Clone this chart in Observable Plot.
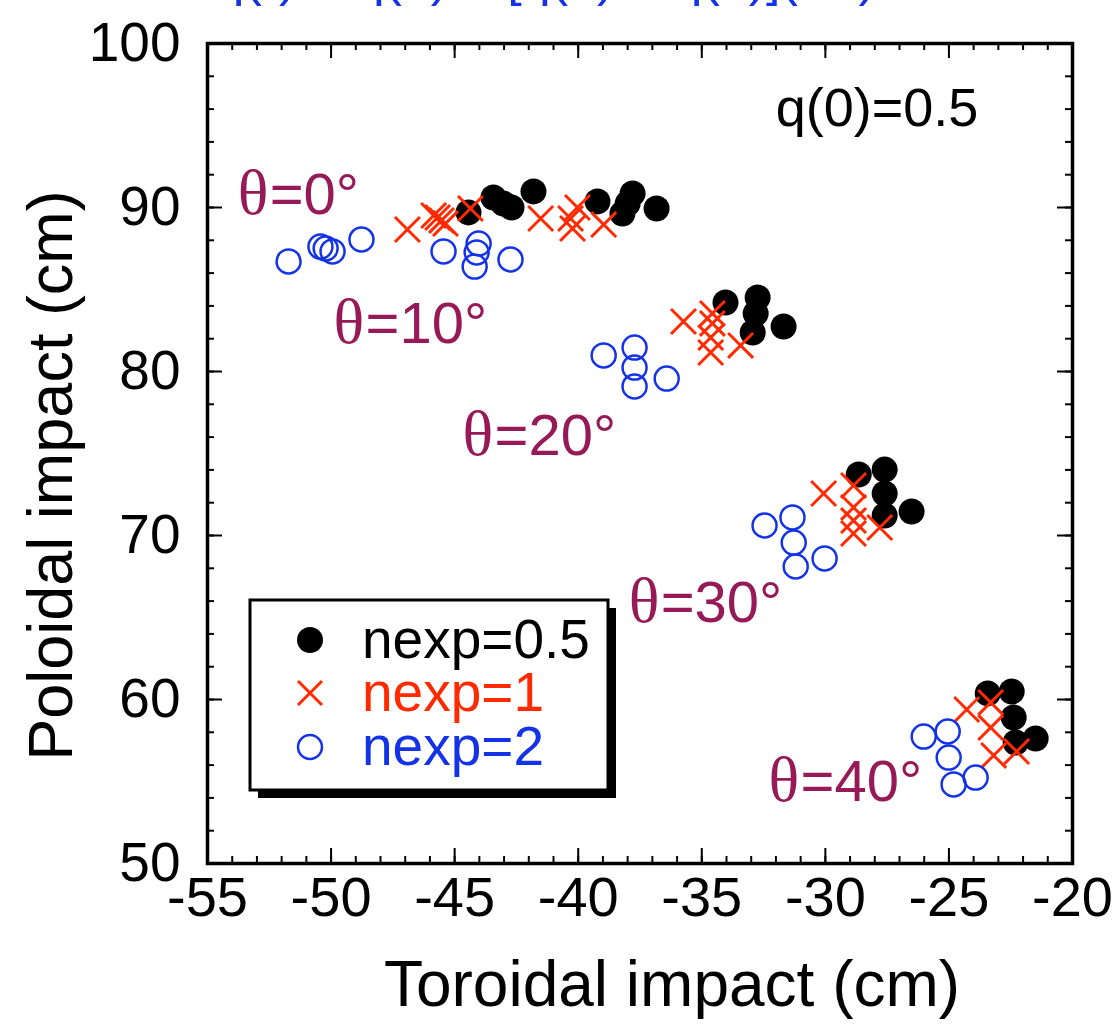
<!DOCTYPE html>
<html>
<head>
<meta charset="utf-8">
<script src="https://cdn.jsdelivr.net/npm/d3@7"></script>
<script src="https://cdn.jsdelivr.net/npm/@observablehq/plot@0.6"></script>
<style>
  html, body { margin: 0; padding: 0; background: #fff; }
  #chart { width: 1114px; height: 1025px; }
</style>
</head>
<body>
<div id="chart"></div>
<script>
// ---- data ----
const groupTheta = [0, 10, 20, 30, 40];

// nexp = 0.5 (filled black circles)
const n05_x = [-44.44, -43.43, -43.03, -42.70, -41.81,
               -39.22, -37.80, -38.00, -38.21, -36.83,
               -34.04, -32.74, -32.82, -32.94, -31.69,
               -28.65, -27.60, -27.60, -27.60, -26.51,
               -23.43, -22.46, -22.38, -22.30, -21.49];
const n05_y = [89.70, 90.61, 90.24, 90.00, 90.98,
               90.37, 90.85, 90.24, 89.63, 89.94,
               84.21, 84.51, 83.54, 82.38, 82.74,
               73.72, 74.02, 72.56, 71.22, 71.46,
               60.37, 60.49, 58.90, 57.38, 57.62];

// nexp = 1 (red crosses)
const n1_x = [-46.91, -45.85, -45.69, -45.53, -45.37, -44.36,
              -41.52, -40.03, -40.31, -40.23, -38.97,
              -35.74, -34.57, -34.57, -34.64, -34.64, -33.43,
              -30.07, -28.86, -28.86, -28.86, -28.86, -27.80,
              -24.28, -23.31, -23.31, -23.19, -22.26];
const n1_y = [88.66, 89.51, 89.39, 89.21, 89.02, 89.94,
              89.33, 90.00, 89.33, 88.72, 88.96,
              83.05, 83.54, 82.93, 82.07, 81.16, 81.59,
              72.56, 73.05, 71.71, 70.91, 70.12, 70.49,
              59.39, 59.82, 58.29, 56.59, 56.83];

// nexp = 2 (open blue circles)
const n2_x = [-51.72, -50.43, -50.22, -49.94, -48.77,
              -45.45, -44.03, -44.11, -44.19, -42.74,
              -38.97, -37.72, -37.72, -37.72, -36.42,
              -32.46, -31.33, -31.28, -31.20, -30.03,
              -26.02, -25.05, -25.01, -24.81, -23.92];
const n2_y = [86.71, 87.62, 87.50, 87.32, 88.05,
              87.32, 87.80, 87.26, 86.40, 86.83,
              80.98, 81.46, 80.24, 79.09, 79.57,
              70.61, 71.10, 69.57, 68.11, 68.60,
              57.74, 58.05, 56.46, 54.82, 55.24];

// theta annotation anchors (left edge, baseline) in data units
const labelTheta = [0, 10, 20, 30, 40];
const labelX = [-53.78, -49.90, -44.68, -37.96, -32.30];
const labelY = [89.63, 81.71, 74.88, 64.70, 53.84];

// axis ticks
const xMajor = [-55, -50, -45, -40, -35, -30, -25, -20];
const xMinor = d3.range(-55, -19, 1);
const yMajor = [50, 60, 70, 80, 90, 100];
const yMinor = d3.range(50, 101, 2);

const seriesNames = ["nexp=0.5", "nexp=1", "nexp=2"];
const seriesColors = ["#000000", "#ff2a00", "#1433e6"];

// ---- build tables ----
const black = n05_x.map((x, i) => ({x, y: n05_y[i]}));
const red = n1_x.map((x, i) => ({x, y: n1_y[i]}));
const blue = n2_x.map((x, i) => ({x, y: n2_y[i]}));
const labels = labelTheta.map((t, i) => ({t, x: labelX[i], y: labelY[i]}));

const W = 1114, H = 1025;
const mL = 207, mR = 42, mT = 43, mB = 162;
const pw = W - mL - mR, ph = H - mT - mB;
const minorLen = 7, majorLen = 15;
const maroon = "#961a57";
const fam = "'Liberation Sans', Arial, Helvetica, sans-serif";

const svg = Plot.plot({
  width: W, height: H,
  marginLeft: mL, marginRight: mR, marginTop: mT, marginBottom: mB,
  style: {fontFamily: fam, background: "white", color: "black"},
  x: {domain: [-55, -20]},
  y: {domain: [50, 100]},
  marks: [
    // cut-off blue title at the very top
    Plot.text(["q(r) = q(0) + [q(a) − q(0)](r/a)²"], {
      frameAnchor: "top-left", textAnchor: "start", lineAnchor: "bottom",
      dx: 8, dy: -49, fontSize: 52, fill: "#1433e6"
    }),
    // ticks (inward, all four sides)
    Plot.tickX(xMinor, {x: d => d, insetTop: ph - minorLen, stroke: "black", strokeWidth: 2}),
    Plot.tickX(xMajor, {x: d => d, insetTop: ph - majorLen, stroke: "black", strokeWidth: 2}),
    Plot.tickX(xMinor, {x: d => d, insetBottom: ph - minorLen, stroke: "black", strokeWidth: 2}),
    Plot.tickX(xMajor, {x: d => d, insetBottom: ph - majorLen, stroke: "black", strokeWidth: 2}),
    Plot.tickY(yMinor, {y: d => d, insetRight: pw - minorLen, stroke: "black", strokeWidth: 2}),
    Plot.tickY(yMajor, {y: d => d, insetRight: pw - majorLen, stroke: "black", strokeWidth: 2}),
    Plot.tickY(yMinor, {y: d => d, insetLeft: pw - minorLen, stroke: "black", strokeWidth: 2}),
    Plot.tickY(yMajor, {y: d => d, insetLeft: pw - majorLen, stroke: "black", strokeWidth: 2}),
    Plot.frame({stroke: "black", strokeWidth: 3.5}),
    Plot.axisX({anchor: "bottom", ticks: xMajor, tickSize: 0, tickPadding: 13, fontSize: 56,
                tickFormat: d => String(d), label: null}),
    Plot.axisY({anchor: "left", ticks: yMajor, tickSize: 0, tickPadding: 27, fontSize: 55,
                tickFormat: d => String(d), label: null}),
    // axis titles
    Plot.text(["Toroidal impact (cm)"], {frameAnchor: "bottom", lineAnchor: "bottom", textAnchor: "middle",
      dx: 32, dy: 142, fontSize: 64, fill: "black"}),
    Plot.text(["Poloidal impact (cm)"], {frameAnchor: "left", lineAnchor: "bottom", textAnchor: "middle",
      rotate: -90, dx: -136, dy: 22, fontSize: 63, fill: "black"}),
    // data
    Plot.dot(black, {x: "x", y: "y", r: 13, fill: seriesColors[0], stroke: "none"}),
    Plot.dot(red, {x: "x", y: "y", r: 11.4, symbol: "times", stroke: seriesColors[1], strokeWidth: 3}),
    Plot.dot(blue, {x: "x", y: "y", r: 12, fill: "none", stroke: seriesColors[2], strokeWidth: 2.5}),
    // theta annotations
    Plot.text(labels, {x: "x", y: "y", text: () => "θ", textAnchor: "start", lineAnchor: "bottom",
      fontSize: 64, fontFamily: "'Liberation Serif', 'Times New Roman', serif", fill: maroon}),
    Plot.text(labels, {x: "x", y: "y", text: d => `=${d.t}°`, textAnchor: "start", lineAnchor: "bottom",
      dx: 32, fontSize: 58, fill: maroon}),
    Plot.text(["q(0)=0.5"], {x: () => -32.01, y: () => 95.0, textAnchor: "start", lineAnchor: "bottom",
      fontSize: 54, fill: "black"})
  ]
});

// ---- legend box with drop shadow ----
const g = d3.select(svg).append("g").attr("font-family", fam).attr("text-anchor", "start");
const bx = 250, by = 600, bw = 358, bh = 190, sh = 8;
g.append("rect").attr("x", bx + sh).attr("y", by + sh).attr("width", bw).attr("height", bh).attr("fill", "black");
g.append("rect").attr("x", bx).attr("y", by).attr("width", bw).attr("height", bh)
  .attr("fill", "white").attr("stroke", "black").attr("stroke-width", 3);
const rowY = [640, 693, 747];
const mx = 310;
g.append("circle").attr("cx", mx).attr("cy", rowY[0]).attr("r", 13).attr("fill", seriesColors[0]);
g.append("path").attr("d", `M${mx-12},${rowY[1]-12}L${mx+12},${rowY[1]+12}M${mx-12},${rowY[1]+12}L${mx+12},${rowY[1]-12}`)
  .attr("stroke", seriesColors[1]).attr("stroke-width", 3).attr("fill", "none");
g.append("circle").attr("cx", mx).attr("cy", rowY[2]).attr("r", 12).attr("fill", "none")
  .attr("stroke", seriesColors[2]).attr("stroke-width", 2.5);
seriesNames.forEach((name, i) => {
  g.append("text").attr("x", 362).attr("y", rowY[i] + 18).attr("font-size", 55)
    .attr("text-anchor", "start").attr("fill", seriesColors[i]).text(name);
});

document.getElementById("chart").appendChild(svg);
</script>
</body>
</html>
